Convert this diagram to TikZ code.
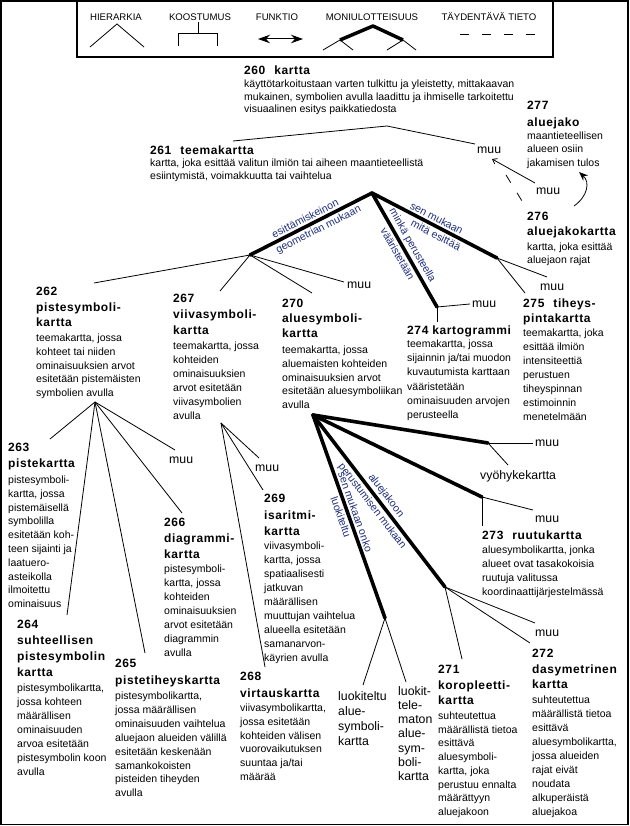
\documentclass[tikz,border=0pt]{standalone}
\usepackage{fontspec}
\setmainfont{Liberation Sans}
\usetikzlibrary{arrows.meta}
\definecolor{labblue}{RGB}{30,45,125}
\newcommand\tl[1]{\begin{tabular}[t]{@{}l@{}}#1\end{tabular}}
\newcommand\gap{\hspace{9pt}}
\tikzset{
  thinline/.style={line width=0.8pt},
  thickline/.style={line width=3.6pt, line cap=round, line join=round},
  title/.style={anchor=base west, inner sep=0pt, font=\fontsize{12}{#1}\selectfont\bfseries\addfontfeature{LetterSpace=5}},
  title/.default=15.5,
  body/.style={anchor=base west, inner sep=0pt, font=\fontsize{10.5}{#1}\selectfont},
  body/.default=13.9,
  other/.style={anchor=base west, inner sep=0pt, font=\fontsize{12.3}{#1}\selectfont},
  other/.default=15,
  edgelab/.style={sloped, font=\fontsize{10.6}{12}\selectfont, text=labblue, inner sep=1.5pt},
  legendtext/.style={font=\fontsize{9.6}{11}\selectfont, inner sep=0pt},
}
\begin{document}
\begin{tikzpicture}[x=1pt, y=-1pt]
\useasboundingbox (0,0) rectangle (629,826);
% page frame and legend
\draw[line width=1.6pt] (1,1) rectangle (628,824.5);
\draw[line width=1.2pt] (77,1) rectangle (553,57);
\node[legendtext] (lg1) at (116,17) {HIERARKIA};
\node[legendtext] (lg2) at (200,17) {KOOSTUMUS};
\node[legendtext] (lg3) at (277,17) {FUNKTIO};
\node[legendtext] (lg4) at (372,17) {MONIULOTTEISUUS};
\node[legendtext] (lg5) at (489,17) {TÄYDENTÄVÄ TIETO};
\draw[thinline] (90,47) -- (117,24) -- (144,47);
\draw[thinline] (198,22) -- (198,33);
\draw[thinline] (178,46) -- (178,33) -- (217,33) -- (217,46);
\draw[line width=1pt, {Stealth[length=12pt,width=8.5pt]}-{Stealth[length=12pt,width=8.5pt]}] (258,39) -- (303,39);
\draw[line width=3.5pt, line join=round] (340,40) -- (373,26) -- (403,40);
\draw[thinline] (323,50) -- (340,40) -- (353,50);
\draw[thinline] (387,50) -- (403,40) -- (416,50);
\draw[thinline, dash pattern=on 8.5pt off 13.5pt] (460,34) -- (535,34);

% entries
\node[title] (t260) at (244,74.5) {\tl{260\gap kartta}};
\node[body=12.6] (b260) at (244,87.8) {\tl{käyttötarkoitustaan varten tulkittu ja yleistetty, mittakaavan\\mukainen, symbolien avulla laadittu ja ihmiselle tarkoitettu\\visuaalinen esitys paikkatiedosta}};
\node[title] (t261) at (150,154.5) {\tl{261\gap teemakartta}};
\node[body=12.8] (b261) at (150,166.5) {\tl{kartta, joka esittää valitun ilmiön tai aiheen maantieteellistä\\esiintymistä, voimakkuutta tai vaihtelua}};
\node[title=17] (t277) at (527,109.5) {\tl{277\\aluejako}};
\node[body=13.5] (b277) at (527,139.5) {\tl{maantieteellisen\\alueen osiin\\jakamisen tulos}};
\node[title=14.7] (t276) at (527,220.5) {\tl{276\\aluejakokartta}};
\node[body=12.7] (b276) at (527,250.8) {\tl{kartta, joka esittää\\aluejaon rajat}};
\node[title=15] (t275) at (523,307.5) {\tl{275\gap tiheys-\\pintakartta}};
\node[body=14] (b275) at (523,336.5) {\tl{teemakartta, joka\\esittää ilmiön\\intensiteettiä\\perustuen\\tiheyspinnan\\estimoinnin\\menetelmään}};
\node[title] (t274) at (407,334.5) {\tl{274 kartogrammi}};
\node[body=14.2] (b274) at (407,347.5) {\tl{teemakartta, jossa\\sijainnin ja/tai muodon\\kuvautumista karttaan\\vääristetään\\ominaisuuden arvojen\\perusteella}};
\node[title=15] (t270) at (282,307.5) {\tl{270\\aluesymboli-\\kartta}};
\node[body=13.8] (b270) at (282,353.5) {\tl{teemakartta, jossa\\aluemaisten kohteiden\\ominaisuuksien arvot\\esitetään aluesymboliikan\\avulla}};
\node[title=16] (t267) at (173,302.5) {\tl{267\\viivasymboli-\\kartta}};
\node[body=14] (b267) at (173,349.5) {\tl{teemakartta, jossa\\kohteiden\\ominaisuuksien\\arvot esitetään\\viivasymbolien\\avulla}};
\node[title=15.5] (t262) at (36,295.5) {\tl{262\\pistesymboli-\\kartta}};
\node[body=13.8] (b262) at (36,341.5) {\tl{teemakartta, jossa\\kohteet tai niiden\\ominaisuuksien arvot\\esitetään pistemäisten\\symbolien avulla}};
\node[title=16] (t263) at (8,451.5) {\tl{263\\pistekartta}};
\node[body=13.8] (b263) at (8,483.5) {\tl{pistesymboli-\\kartta, jossa\\pistemäisellä\\symbolilla\\esitetään koh-\\teen sijainti ja\\laatuero-\\asteikolla\\ilmoitettu\\ominaisuus}};
\node[title=16] (t266) at (164,526.5) {\tl{266\\diagrammi-\\kartta}};
\node[body=14] (b266) at (164,572.5) {\tl{pistesymboli-\\kartta, jossa\\kohteiden\\ominaisuuksien\\arvot esitetään\\diagrammin\\avulla}};
\node[title=16] (t264) at (17,628.5) {\tl{264\\suhteellisen\\pistesymbolin\\kartta}};
\node[body=14] (b264) at (17,691.5) {\tl{pistesymbolikartta,\\jossa kohteen\\määrällisen\\ominaisuuden\\arvoa esitetään\\pistesymbolin koon\\avulla}};
\node[title=17] (t265) at (115,667.5) {\tl{265\\pistetiheyskartta}};
\node[body=13.9] (b265) at (115,699.5) {\tl{pistesymbolikartta,\\jossa määrällisen\\ominaisuuden vaihtelua\\aluejaon alueiden välillä\\esitetään keskenään\\samankokoisten\\pisteiden tiheyden\\avulla}};
\node[title=17] (t268) at (240,680.5) {\tl{268\\virtauskartta}};
\node[body=13.8] (b268) at (240,711.5) {\tl{viivasymbolikartta,\\jossa esitetään\\kohteiden välisen\\vuorovaikutuksen\\suuntaa ja/tai\\määrää}};
\node[title=16.5] (t269) at (264,502.5) {\tl{269\\isaritmi-\\kartta}};
\node[body=14] (b269) at (264,549.5) {\tl{viivasymboli-\\kartta, jossa\\spatiaalisesti\\jatkuvan\\määrällisen\\muuttujan vaihtelua\\alueella esitetään\\samanarvon-\\käyrien avulla}};
\node[title] (t273) at (482,539.5) {\tl{273\gap ruutukartta}};
\node[body=14] (b273) at (482,553.5) {\tl{aluesymbolikartta, jonka\\alueet ovat tasakokoisia\\ruutuja valitussa\\koordinaattijärjestelmässä}};
\node[title=15.5] (t271) at (438,673.5) {\tl{271\\koropleetti-\\kartta}};
\node[body=13.7] (b271) at (438,719.5) {\tl{suhteutettua\\määrällistä tietoa\\esittävä\\aluesymboli-\\kartta, joka\\perustuu ennalta\\määrättyyn\\aluejakoon}};
\node[title=15.5] (t272) at (532,657.5) {\tl{272\\dasymetrinen\\kartta}};
\node[body=14] (b272) at (532,703.5) {\tl{suhteutettua\\määrällistä tietoa\\esittävä\\aluesymbolikartta,\\jossa alueiden\\rajat eivät\\noudata\\alkuperäistä\\aluejakoa}};

% other labels
\node[other] (m1) at (477,153.3) {muu};
\node[other] (m2) at (536,195) {muu};
\node[other] (m3) at (540,290) {muu};
\node[other] (m4) at (472,307) {muu};
\node[other] (m5) at (347,288) {muu};
\node[other] (m6) at (169,463) {muu};
\node[other] (m7) at (255,471) {muu};
\node[other] (m8) at (535,446) {muu};
\node[other] (vy) at (480,479) {vyöhykekartta};
\node[other] (m9) at (535,522) {muu};
\node[other] (m10) at (535,636) {muu};
\node[other=15] (lk) at (338,700) {\tl{luokiteltu\\alue-\\symboli-\\kartta}};
\node[other=14.3] (lm) at (398,695) {\tl{luokit-\\tele-\\maton\\alue-\\sym-\\boli-\\kartta}};

% junction points and line ends
\coordinate (p260) at (387,126);
\coordinate (p261) at (372,193);
\coordinate (pL) at (250,255);
\coordinate (pK) at (437,307);
\coordinate (pR) at (497,258);
\coordinate (p262) at (95,402);
\coordinate (p267) at (221,423);
\coordinate (p270) at (313,415);
\coordinate (pV) at (488,443);
\coordinate (pRu) at (482,497);
\coordinate (pA) at (445,587);
\coordinate (pLk) at (385,618);

\coordinate (e261) at (233,141);
\coordinate (em1) at (475,144);
\coordinate (e262) at (94,283);
\coordinate (e267) at (220,291);
\coordinate (e270) at (312,293);
\coordinate (em5) at (344,282);
\coordinate (em4) at (470,304);
\coordinate (e274) at (437,322);
\coordinate (em3) at (547,277);
\coordinate (e275) at (525,293);
\coordinate (e263) at (50,439);
\coordinate (em6) at (175,450);
\coordinate (e266) at (182,513);
\coordinate (e264) at (67,615);
\coordinate (e265) at (145,653);
\coordinate (em7) at (259,458);
\coordinate (e269) at (263,490);
\coordinate (e268) at (265,667);
\coordinate (em8) at (533,443);
\coordinate (evy) at (508,465);
\coordinate (em9) at (533,510);
\coordinate (e273) at (482,526);
\coordinate (e271) at (462,659);
\coordinate (em10) at (535,623);
\coordinate (e272) at (530,643);
\coordinate (elk) at (363,685);
\coordinate (elm) at (406,682);
\coordinate (am2) at (535,183);
\coordinate (am1) at (492,159);
\coordinate (d1) at (506,175);
\coordinate (d2) at (522,201);
\coordinate (c276) at (574,206);
\coordinate (c277) at (579,172);

% hierarchy lines
\draw[thinline] (e261) -- (p260) -- (em1);
\draw[thinline] (e262) -- (pL);
\draw[thinline] (e267) -- (pL);
\draw[thinline] (e270) -- (pL);
\draw[thinline] (em5) -- (pL);
\draw[thinline] (pK) -- (em4);
\draw[thinline] (pK) -- (e274);
\draw[thinline] (pR) -- (em3);
\draw[thinline] (pR) -- (e275);
\foreach \e in {e263,em6,e266,e264,e265} \draw[thinline] (p262) -- (\e);
\foreach \e in {em7,e269,e268} \draw[thinline] (p267) -- (\e);
\draw[thinline] (pV) -- (em8);
\draw[thinline] (pV) -- (evy);
\draw[thinline] (pRu) -- (em9);
\draw[thinline] (pRu) -- (e273);
\foreach \e in {e271,em10,e272} \draw[thinline] (pA) -- (\e);
\draw[thinline] (pLk) -- (elk);
\draw[thinline] (pLk) -- (elm);

% multidimensional (thick) lines with labels
\draw[thickline] (pL) -- node[edgelab, above=0.5pt, pos=0.48] (l1) {esittämiskeinon} node[edgelab, below=0.5pt, pos=0.53] (l2) {geometrian mukaan} (p261);
\draw[thickline] (p261) -- node[edgelab, above=0.5pt, pos=0.5] (l3) {minkä perusteella} node[edgelab, below=0.5pt, pos=0.5] (l4) {vääristetään} (pK);
\draw[thickline] (p261) -- node[edgelab, above=0.5pt, pos=0.49] (l5) {sen mukaan} node[edgelab, below=0.5pt, pos=0.54] (l6) {mitä esittää} (pR);
\draw[thickline] (p270) -- (pV);
\draw[thickline] (p270) -- (pRu);
\draw[thickline] (p270) -- node[edgelab, above=0.5pt, pos=0.5] (l7) {aluejakoon} node[edgelab, below=0.5pt, pos=0.5] (l8) {perustumisen mukaan} (pA);
\draw[thickline] (p270) -- node[edgelab, above=0.5pt, pos=0.49] (l9) {sen mukaan onko} node[edgelab, below=0.5pt, pos=0.49] (l10) {luokiteltu} (pLk);

% supplementary info
\draw[thinline, -{Straight Barb[length=4pt,width=6pt]}] (am2) -- (am1);
\draw[thinline, dash pattern=on 9pt off 12pt] (d1) -- (d2);
\draw[thinline, -{Stealth[length=9pt,width=7pt]}] (c276) .. controls (588,196) and (590,182) .. (c277);
\end{tikzpicture}
\end{document}
